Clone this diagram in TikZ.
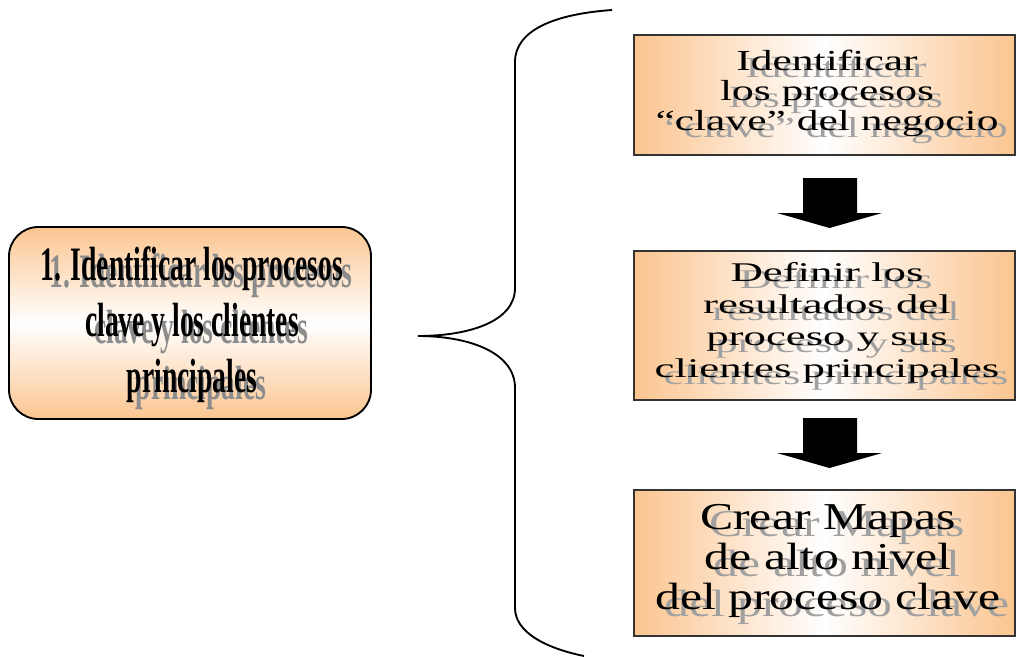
\documentclass[tikz,border=0pt]{standalone}
\usepackage{fontspec}
\setmainfont{Liberation Serif}
\newfontfamily\condfont{Liberation Serif}[FakeStretch=0.575,Ligatures=TeX]
\newfontfamily\wideA{Liberation Serif}[FakeStretch=1.5,Ligatures=TeX]
\newfontfamily\wideB{Liberation Serif}[FakeStretch=1.66,Ligatures=TeX]
\newfontfamily\wideC{Liberation Serif}[FakeStretch=1.31,Ligatures=TeX]
\definecolor{orng}{HTML}{FBC590}
\definecolor{shadowgray}{HTML}{A0A0A0}
\definecolor{shadowdark}{HTML}{8C8C8C}
\begin{document}
\begin{tikzpicture}[x=0.75pt,y=-0.75pt,
  leftbox/.style={draw=black, line width=1.4pt, rounded corners=22pt,
    top color=orng, bottom color=orng, middle color=white,
    minimum width=362*0.75pt, minimum height=192*0.75pt, inner sep=0pt},
  stepbox/.style={draw=black!80, line width=1.1pt,
    left color=orng, right color=orng, middle color=white,
    minimum width=381*0.75pt, inner sep=0pt},
  txt/.style={align=center, inner sep=0pt},
  shd/.style={txt, text=shadowgray, xshift=6.75pt, yshift=-5.25pt},
  bigarrow/.style={fill=black}
]
\useasboundingbox (0,0) rectangle (1016,656);

% left box
\node[leftbox] (L) at (190,323) {};
\node[shd, text=shadowdark, font=\condfont\bfseries\fontsize{36pt}{42pt}\selectfont] (Ls) at (192,325)
  {1. Identificar los procesos\\clave y los clientes\\principales};
\node[txt, font=\condfont\bfseries\fontsize{36pt}{42pt}\selectfont] (Lt) at (192,325)
  {1. Identificar los procesos\\clave y los clientes\\principales};

% right boxes
\node[stepbox, minimum height=120*0.75pt] (B1) at (824.5,95) {};
\node[shd, font=\wideA\fontsize{21.75pt}{22.5pt}\selectfont] (B1s) at (827,93)
  {Identificar\\los procesos\\“clave” del negocio};
\node[txt, font=\wideA\fontsize{21.75pt}{22.5pt}\selectfont] (B1t) at (827,93)
  {Identificar\\los procesos\\“clave” del negocio};

\node[stepbox, minimum height=149*0.75pt] (B2) at (824.5,325.5) {};
\node[shd, font=\wideB\fontsize{20.25pt}{24pt}\selectfont] (B2s) at (827,323)
  {Definir los\\resultados del\\proceso y sus\\clientes principales};
\node[txt, font=\wideB\fontsize{20.25pt}{24pt}\selectfont] (B2t) at (827,323)
  {Definir los\\resultados del\\proceso y sus\\clientes principales};

\node[stepbox, minimum height=146*0.75pt] (B3) at (824.5,563) {};
\node[shd, font=\wideC\fontsize{28.5pt}{30pt}\selectfont] (B3s) at (828,561)
  {Crear Mapas\\de alto nivel\\del proceso clave};
\node[txt, font=\wideC\fontsize{28.5pt}{30pt}\selectfont] (B3t) at (828,561)
  {Crear Mapas\\de alto nivel\\del proceso clave};

% block arrows
\fill[bigarrow] (803,178) -- (857,178) -- (857,213) -- (882,213) -- (829.5,228)
  -- (777,213) -- (803,213) -- cycle;
\fill[bigarrow] (803,418) -- (857,418) -- (857,453) -- (882,453) -- (829.5,468)
  -- (777,453) -- (803,453) -- cycle;

% brace
\coordinate (bt) at (612,10);
\coordinate (tip) at (418,336);
\coordinate (bb) at (584,656);
\draw[line width=1.4pt] (bt) .. controls (555,14) and (515,30) .. (515,62)
  -- (515,288) .. controls (515,322) and (468,336) .. (tip)
  .. controls (468,336) and (515,352) .. (515,388)
  -- (515,608) .. controls (515,632) and (545,648) .. (bb);
\end{tikzpicture}
\end{document}
